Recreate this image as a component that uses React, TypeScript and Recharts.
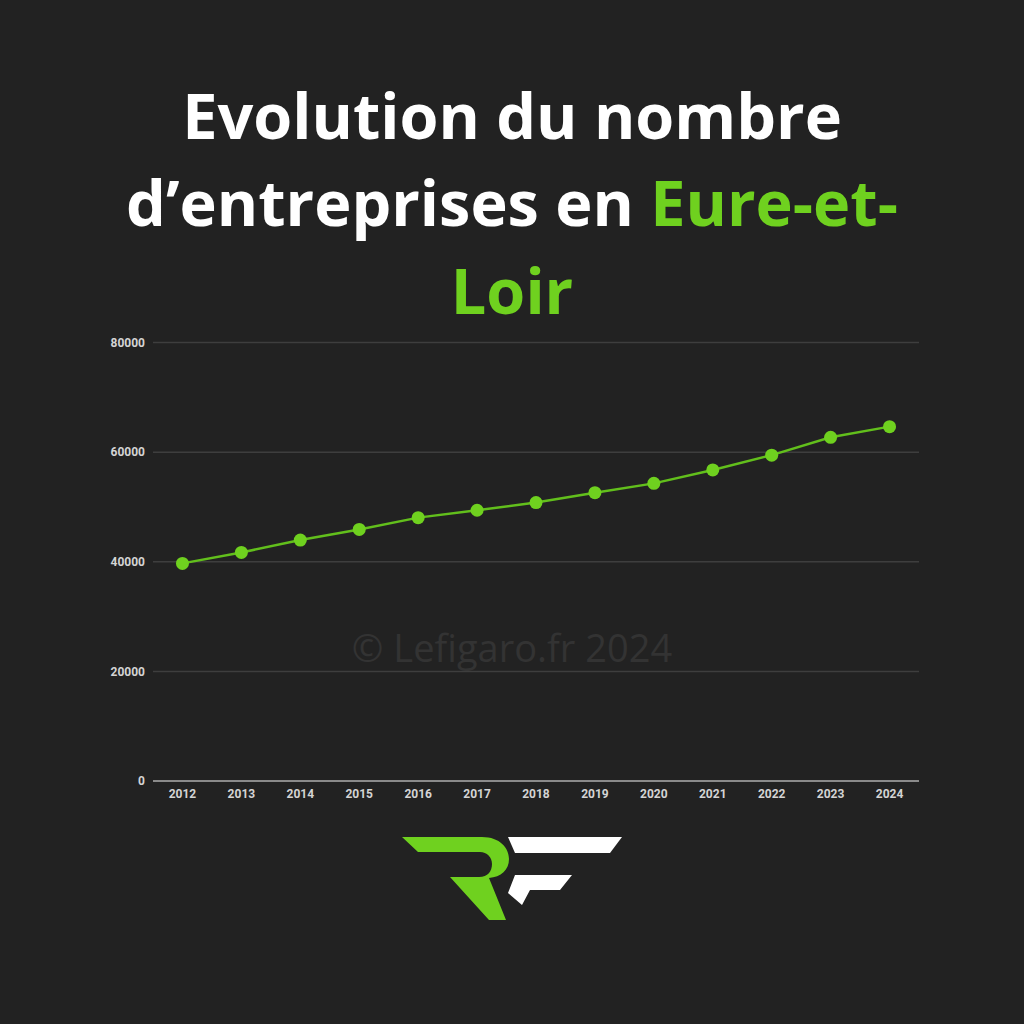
import { LineChart, Line, XAxis, YAxis, CartesianGrid } from 'recharts';

const years = ['2012', '2013', '2014', '2015', '2016', '2017', '2018', '2019', '2020', '2021', '2022', '2023', '2024'];
const companies = [39700, 41700, 43950, 45900, 48050, 49400, 50800, 52600, 54300, 56750, 59450, 62700, 64650];
const yTicks = [0, 20000, 40000, 60000, 80000];

const GREEN = '#6fd11f';
const BG = '#222222';

const data = years.map((year, i) => ({ year, value: companies[i] }));

function Logo() {
  return (
    <svg width={1024} height={1024} style={{ position: 'absolute', left: 0, top: 0, pointerEvents: 'none' }}>
      {/* green R */}
      <path
        d="M 402 837 L 482 837 C 500 837 509 848 509 859 C 509 870 501 877 489 878 L 506 920 L 489 920 L 450 877 L 479 877 C 488 877 492 871 492 864 C 492 857 487 852 480 852 L 418 852 Z"
        fill={GREEN}
      />
      {/* white F */}
      <path d="M 508 837 L 622 837 L 610 853 L 515 853 Z" fill="#ffffff" />
      <path d="M 515 875 L 572 875 L 560 890 L 530 890 L 522 905 L 508 893 Z" fill="#ffffff" />
    </svg>
  );
}

export default function App() {
  return (
    <div
      style={{
        position: 'absolute',
        left: 0,
        top: 0,
        width: 1024,
        height: 1024,
        background: BG,
        overflow: 'hidden',
        fontFamily: '"Open Sans", sans-serif',
      }}
    >
      <div
        style={{
          position: 'absolute',
          top: 71,
          left: 0,
          width: 1024,
          textAlign: 'center',
          fontSize: 63,
          lineHeight: '87.4px',
          fontWeight: 700,
          color: '#ffffff',
        }}
      >
        Evolution du nombre
        <br />
        d’entreprises en <span style={{ color: GREEN }}>Eure-et-</span>
        <br />
        <span style={{ color: GREEN }}>Loir</span>
      </div>

      <div
        style={{
          position: 'absolute',
          top: 622,
          left: 0,
          width: 1024,
          textAlign: 'center',
          fontSize: 38,
          lineHeight: '50px',
          color: '#333333',
        }}
      >
        © Lefigaro.fr 2024
      </div>

      <div style={{ position: 'absolute', left: 0, top: 320 }}>
        <LineChart width={1024} height={500} data={data} margin={{ top: 22.5, right: 105, left: 0, bottom: 9 }}>
          <CartesianGrid vertical={false} stroke="#3e3e3e" strokeWidth={1.5} />
          <XAxis
            dataKey="year"
            scale="band"
            height={30}
            stroke="#8a8a8a"
            strokeWidth={2}
            tickLine={false}
            tick={{ fill: '#d4d4d4', fontSize: 12, fontWeight: 700, fontFamily: 'Roboto' }}
          />
          <YAxis
            width={153}
            domain={[0, 80000]}
            ticks={yTicks}
            axisLine={false}
            tickLine={false}
            tick={{ fill: '#d4d4d4', fontSize: 12, fontWeight: 700, fontFamily: 'Roboto' }}
          />
          <Line
            type="linear"
            dataKey="value"
            stroke="#62bf1c"
            strokeWidth={2.5}
            dot={{ r: 6.5, fill: GREEN, stroke: 'none' }}
            isAnimationActive={false}
          />
        </LineChart>
      </div>

      <Logo />
    </div>
  );
}
